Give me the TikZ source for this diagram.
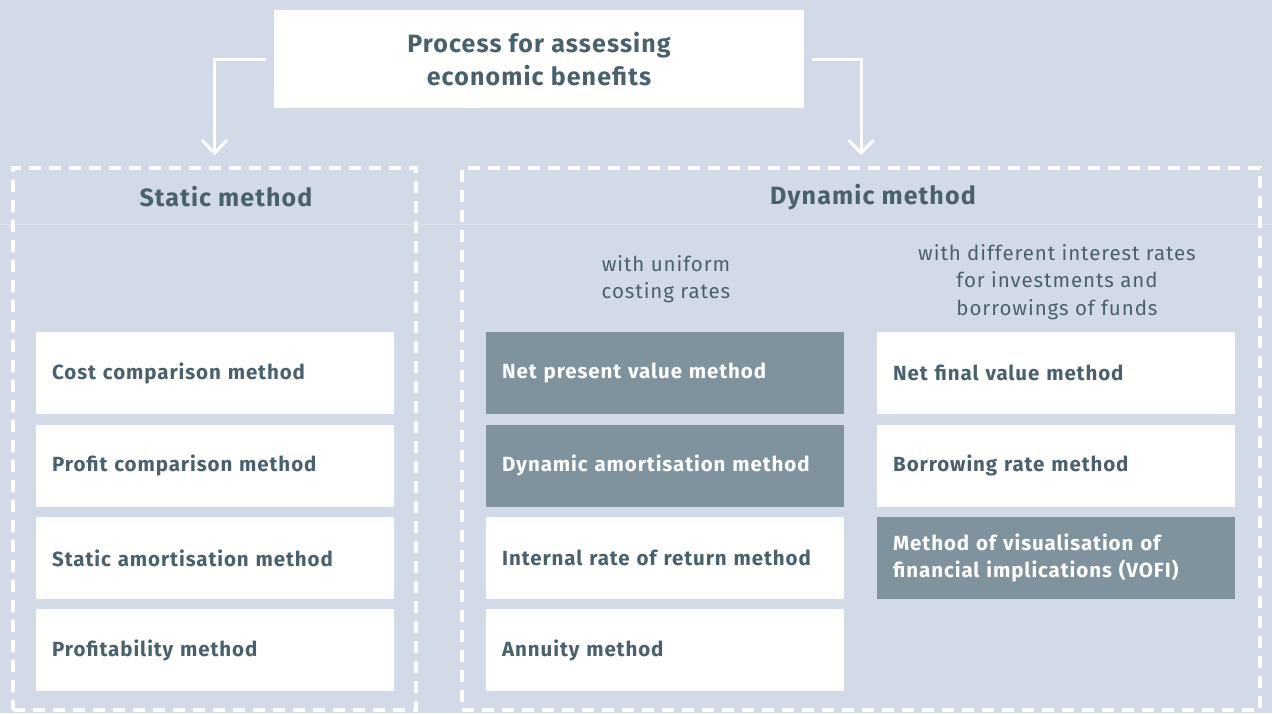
\documentclass[tikz,border=0pt]{standalone}
\usepackage{fontspec}
\setmainfont{Fira Sans}[LetterSpace=4.5]
\usetikzlibrary{positioning,arrows.meta}

\definecolor{bgblue}{HTML}{D3DAE7}
\definecolor{slate}{HTML}{4A616D}
\definecolor{greybox}{HTML}{7F929D}
\definecolor{faint}{HTML}{DDE3EE}

\begin{document}
\begin{tikzpicture}[x=1pt,y=-1pt,
    node distance=10pt,
    panel/.style={draw=white, line width=3.5pt, dash pattern=on 12pt off 8pt, minimum height=542pt},
    method/.style={fill=white, text=slate, font=\bfseries\fontsize{20.5}{27}\selectfont,
      text width=326pt, align=left, inner xsep=16pt, inner ysep=0pt, minimum height=82pt},
    grey/.style={method, fill=greybox, text=white},
    head/.style={text=slate, font=\bfseries\fontsize{25}{33}\selectfont, align=center},
    note/.style={text=slate, font=\fontsize{20.5}{27.5}\selectfont, align=center},
    link/.style={draw=white, line width=3pt, -{Straight Barb[length=13pt,width=25pt]}}]

  \useasboundingbox (0,0) rectangle (1272,713);
  \fill[bgblue] (0,0) rectangle (1272,713);
  \draw[faint, line width=1pt] (0,224) -- (1272,224);

  % top
  \node[head, fill=white, minimum width=530pt, minimum height=98pt] (title) at (539,59)
    {Process for assessing\\economic benefits};

  % two groups
  \node[panel, minimum width=403pt] (static) at (214.5,439) {};
  \node[panel, minimum width=798pt] (dynamic) at (861,439) {};
  \node[head] (statichead) at (226,197) {Static method};
  \node[head] (dynhead) at (873,197) {Dynamic method};

  \node[note] (uniform) at (666,279) {with uniform\\costing rates};
  \node[note] (different) at (1057,282) {with different interest rates\\for investments and\\borrowings of funds};

  % static column
  \node[method, anchor=north west] (cost) at (36,332) {Cost comparison method};
  \node[method, below=of cost] (profit) {Profit comparison method};
  \node[method, below=of profit] (amort) {Static amortisation method};
  \node[method, below=of amort] (profitab) {Profitability method};

  % uniform rates
  \node[grey, anchor=north west] (npv) at (486,332) {Net present value method};
  \node[grey, below=of npv] (dynamort) {Dynamic amortisation method};
  \node[method, below=of dynamort] (irr) {Internal rate of return method};
  \node[method, below=of irr] (annuity) {Annuity method};

  % different rates
  \node[method, anchor=north west] (nfv) at (877,332) {Net final value method};
  \node[method, below=of nfv] (borrow) {Borrowing rate method};
  \node[grey, below=of borrow] (vofi) {Method of visualisation of\\financial implications (VOFI)};

  \draw[link, shorten <=8pt, shorten >=11pt] (title.west) -| (static.north);
  \draw[link, shorten <=8pt, shorten >=11pt] (title.east) -| (dynamic.north);

\end{tikzpicture}
\end{document}
